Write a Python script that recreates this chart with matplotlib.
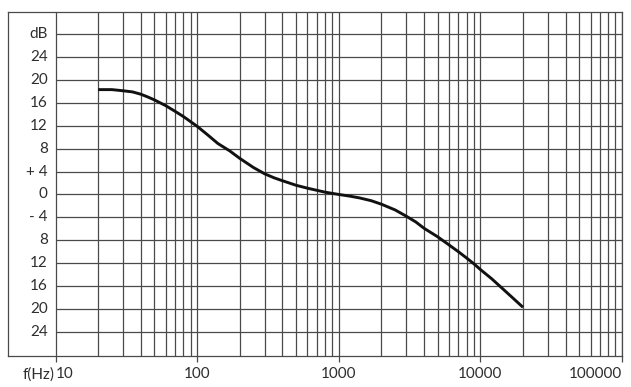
import matplotlib
matplotlib.use("Agg")
import matplotlib.pyplot as plt

# curve: frequency (Hz) vs level (dB)
freq = [20, 25, 30, 35, 40, 45, 50, 60, 70, 80, 90, 100, 120, 140, 170, 200,
        250, 300, 350, 400, 500, 600, 800, 1000, 1200, 1400, 1700, 2000, 2500,
        3000, 3500, 4000, 5000, 6000, 7000, 8000, 9000, 10000, 12000, 14000,
        17000, 20000]
level = [18.3, 18.3, 18.1, 17.9, 17.5, 17.0, 16.5, 15.5, 14.5, 13.6, 12.7,
         11.9, 10.3, 8.9, 7.6, 6.3, 4.7, 3.6, 2.9, 2.4, 1.6, 1.1, 0.4, 0.0,
         -0.3, -0.6, -1.1, -1.7, -2.7, -3.8, -4.8, -5.9, -7.4, -8.8, -10.0,
         -11.1, -12.1, -13.1, -14.7, -16.2, -18.1, -19.7]

# y grid rows and their labels (as printed on the original)
y_rows = [28, 24, 20, 16, 12, 8, 4, 0, -4, -8, -12, -16, -20, -24]
y_labels = ["dB", "24", "20", "16", "12", "8", "+ 4", "0", "- 4",
            "8", "12", "16", "20", "24"]

# decade ticks
x_major = [10, 100, 1000, 10000, 100000]
x_labels = ["10", "100", "1000", "10000", "100000"]

plt.rcParams['font.family'] = ['Lato', 'DejaVu Sans']
grid_col = '#4a4a4a'
text_col = '#2e2e2e'

fig = plt.figure(figsize=(6.31, 3.87), dpi=100)
ax = fig.add_axes([0.0127, 0.0801, 0.973, 0.8889])
ax.set_xscale('log')
ax.set_xlim(4.62, 1e5)
ax.set_ylim(-28.2, 31.85)

# vertical grid: every decade and its 2..9 multiples
minor = [m * d for d in x_major[:-1] for m in range(2, 10)]
ax.vlines(minor + x_major, -28.2, 31.85, color=grid_col, lw=0.9, zorder=1)

# horizontal grid starts at the 10 Hz line
ax.hlines(y_rows, 10, 1e5, color=grid_col, lw=0.9, zorder=1)

# response curve
ax.plot(freq, level, color='#111111', lw=2.1, zorder=3,
        solid_capstyle='butt', solid_joinstyle='round')

for sp in ax.spines.values():
    sp.set_color(grid_col)
    sp.set_linewidth(0.9)

ax.set_yticks([])
ax.set_xticks(x_major)
ax.set_xticks([], minor=True)
ax.set_xticklabels(x_labels)
ax.tick_params(axis='x', which='major', length=4, width=0.9,
               color=grid_col, labelcolor=text_col, labelsize=11, pad=4)
lbls = ax.get_xticklabels()
lbls[0].set_ha('left')
lbls[-1].set_ha('right')

# y labels sit inside the frame, left of the 10 Hz line
for yv, lab in zip(y_rows, y_labels):
    ax.text(8.8, yv, lab, ha='right', va='center', fontsize=11,
            color=text_col)

ax.annotate("f(Hz)", xy=(10, -28.2), xytext=(-1, -8),
            textcoords='offset points', ha='right', va='top',
            fontsize=11, color=text_col)

fig.savefig("out.png", dpi=100)
